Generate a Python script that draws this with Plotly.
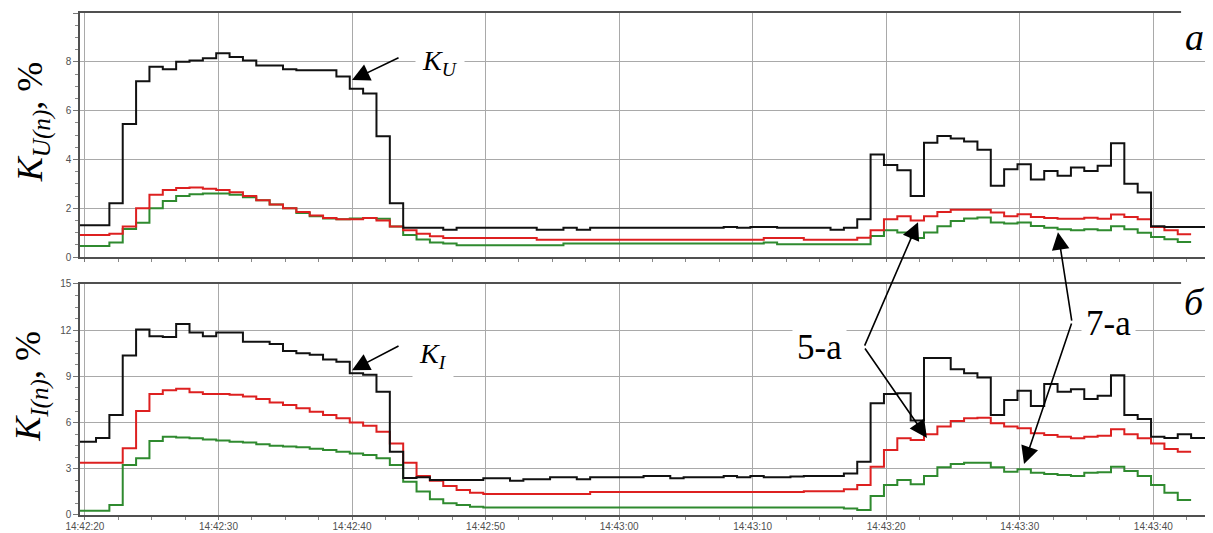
import plotly.graph_objects as go
import pandas as pd

# ---------------- data ----------------
SAMPLE_START = "2024-01-01 14:42:19.83"   # start of first 1-s sample
X_RANGE = ["2024-01-01 14:42:19.63", "2024-01-01 14:43:44.02"]

# Panel a: voltage harmonic factors, % (1-s samples)
ku_total = [1.3, 1.3, 2.2, 5.45, 7.2, 7.8, 7.7, 8.0, 8.05, 8.15, 8.35, 8.2, 8.05, 7.85, 7.85, 7.7,
            7.65, 7.65, 7.65, 7.4, 6.9, 6.7, 4.95, 2.2, 1.2, 1.2, 1.2, 1.12, 1.2, 1.2, 1.2, 1.2,
            1.2, 1.2, 1.12, 1.12, 1.2, 1.12, 1.2, 1.2, 1.2, 1.2, 1.2, 1.2, 1.2, 1.2, 1.2, 1.2,
            1.23, 1.2, 1.23, 1.23, 1.2, 1.2, 1.2, 1.2, 1.12, 1.2, 1.55, 4.2, 3.77, 3.56, 2.5, 4.68,
            4.96, 4.86, 4.73, 4.4, 2.92, 3.6, 3.8, 3.18, 3.53, 3.33, 3.67, 3.53, 3.74, 4.66, 3.0,
            2.64, 1.26, 1.23, 1.23, 1.23, 1.23]
ku_5 = [0.9, 0.9, 0.95, 1.25, 2.0, 2.55, 2.75, 2.83, 2.85, 2.8, 2.75, 2.65, 2.5, 2.33, 2.15, 2.0,
        1.85, 1.7, 1.6, 1.55, 1.55, 1.6, 1.5, 1.25, 1.1, 0.95, 0.85, 0.78, 0.78, 0.78, 0.78, 0.78,
        0.78, 0.78, 0.71, 0.71, 0.71, 0.71, 0.71, 0.71, 0.71, 0.71, 0.71, 0.71, 0.71, 0.71, 0.71,
        0.71, 0.71, 0.71, 0.71, 0.78, 0.78, 0.78, 0.71, 0.71, 0.71, 0.71, 0.79, 1.1, 1.55, 1.67,
        1.5, 1.67, 1.85, 1.94, 1.94, 1.94, 1.82, 1.67, 1.75, 1.64, 1.6, 1.57, 1.57, 1.61, 1.57,
        1.74, 1.64, 1.55, 1.23, 1.1, 0.93]
ku_7 = [0.45, 0.45, 0.6, 1.15, 1.4, 2.0, 2.3, 2.5, 2.57, 2.6, 2.6, 2.55, 2.45, 2.33, 2.15, 2.0,
        1.8, 1.67, 1.58, 1.55, 1.58, 1.6, 1.57, 1.25, 0.9, 0.72, 0.6, 0.55, 0.48, 0.48, 0.48, 0.48,
        0.48, 0.48, 0.48, 0.48, 0.55, 0.55, 0.55, 0.55, 0.55, 0.55, 0.55, 0.55, 0.55, 0.55, 0.55,
        0.55, 0.55, 0.55, 0.55, 0.6, 0.52, 0.52, 0.52, 0.52, 0.52, 0.52, 0.52, 0.86, 1.1, 1.0,
        0.78, 1.0, 1.26, 1.48, 1.58, 1.62, 1.41, 1.37, 1.41, 1.27, 1.2, 1.14, 1.1, 1.14, 1.1,
        1.26, 1.14, 0.99, 0.82, 0.73, 0.62]

# Panel б: current harmonic factors, %
ki_total = [4.75, 5.0, 6.5, 10.35, 12.05, 11.6, 11.55, 12.4, 11.85, 11.6, 11.85, 11.85, 11.25,
            11.25, 11.1, 10.65, 10.5, 10.4, 10.1, 9.95, 9.2, 9.1, 8.0, 4.1, 2.4, 2.45, 2.27, 2.27,
            2.27, 2.27, 2.38, 2.38, 2.23, 2.32, 2.32, 2.45, 2.45, 2.32, 2.45, 2.45, 2.45, 2.45,
            2.53, 2.53, 2.38, 2.45, 2.45, 2.45, 2.53, 2.45, 2.53, 2.45, 2.45, 2.5, 2.53, 2.53,
            2.53, 2.7, 3.46, 7.25, 7.86, 7.9, 6.13, 10.2, 10.2, 9.46, 9.2, 8.92, 6.5, 7.47, 8.07,
            7.08, 8.5, 8.0, 8.16, 7.53, 7.75, 9.07, 6.5, 6.23, 5.08, 5.0, 5.24, 5.0, 5.0]
ki_5 = [3.4, 3.4, 3.4, 4.33, 6.75, 7.86, 8.1, 8.2, 7.97, 7.86, 7.86, 7.8, 7.7, 7.53, 7.3, 7.14,
        6.93, 6.7, 6.5, 6.28, 6.0, 5.8, 5.4, 4.65, 3.4, 2.53, 2.23, 1.88, 1.62, 1.45, 1.36, 1.36,
        1.36, 1.36, 1.36, 1.36, 1.36, 1.36, 1.5, 1.5, 1.5, 1.5, 1.5, 1.5, 1.5, 1.5, 1.5, 1.5,
        1.5, 1.5, 1.5, 1.5, 1.5, 1.5, 1.55, 1.55, 1.55, 1.67, 1.95, 3.14, 4.22, 4.98, 4.87,
        5.24, 5.74, 6.1, 6.28, 6.32, 5.95, 5.74, 5.63, 5.3, 5.2, 5.08, 4.98, 5.08, 5.15, 5.56,
        5.24, 4.98, 4.65, 4.29, 4.11]
ki_7 = [0.28, 0.28, 0.65, 3.25, 3.68, 4.8, 5.08, 5.04, 4.98, 4.9, 4.83, 4.76, 4.7, 4.6, 4.5, 4.44,
        4.4, 4.3, 4.22, 4.1, 4.0, 3.9, 3.68, 3.25, 2.16, 1.52, 1.02, 0.76, 0.65, 0.54, 0.48, 0.48,
        0.48, 0.48, 0.48, 0.48, 0.48, 0.48, 0.48, 0.48, 0.48, 0.48, 0.48, 0.48, 0.48, 0.48, 0.48,
        0.48, 0.48, 0.48, 0.48, 0.48, 0.48, 0.48, 0.48, 0.48, 0.48, 0.43, 0.32, 1.23, 1.95, 2.27,
        1.99, 2.53, 3.1, 3.31, 3.4, 3.4, 3.1, 2.81, 2.97, 2.75, 2.66, 2.6, 2.53, 2.75, 2.77, 3.14,
        2.86, 2.53, 1.95, 1.45, 0.97]

Y1_TICKS = [0, 2, 4, 6, 8, 10]
Y2_TICKS = [0, 3, 6, 9, 12, 15]

# ---------------- figure ----------------
times = list(pd.date_range(SAMPLE_START, periods=95, freq="1s"))
x_left = pd.Timestamp(X_RANGE[0])


def step_xy(vals):
    n = len(vals)
    x = [x_left] + times[:n + 1]
    y = [vals[0]] + list(vals) + [vals[-1]]
    return x, y


BLACK, RED, GREEN = "#111111", "#dd2020", "#2f8a2f"
fig = go.Figure()
for vals, col, name, ax in [
    (ku_7, GREEN, "7-а (U)", "1"), (ku_5, RED, "5-а (U)", "1"), (ku_total, BLACK, "K_U", "1"),
    (ki_7, GREEN, "7-а (I)", "2"), (ki_5, RED, "5-а (I)", "2"), (ki_total, BLACK, "K_I", "2"),
]:
    x, y = step_xy(vals)
    fig.add_trace(go.Scatter(
        x=x, y=y, mode="lines", line=dict(color=col, width=2, shape="hv"), name=name,
        xaxis="x" if ax == "1" else "x2", yaxis="y" if ax == "1" else "y2", showlegend=False))

GRID = "#a9a9a9"
LINE = "#505050"
TICKF = dict(family="Liberation Sans, Arial", size=10, color="#505050")
TITLEF = dict(family="Liberation Serif, Times New Roman", size=36, color="black")

xcommon = dict(type="date", range=X_RANGE, dtick=10000, tickformat="%H:%M:%S",
               showgrid=True, gridcolor=GRID, gridwidth=1, ticks="outside", ticklen=3,
               tickcolor="#777", showline=True, linecolor=LINE, linewidth=1.5, mirror=True,
               zeroline=False, tickfont=TICKF, automargin=False,
               minor=dict(dtick=2500, ticks="outside", ticklen=3, tickcolor="#888", showgrid=False))
ycommon = dict(showgrid=True, gridcolor=GRID, gridwidth=1, ticks="outside", ticklen=5,
               tickcolor="#777", showline=True, linecolor=LINE, linewidth=1.5, mirror=True,
               zeroline=False, tickfont=TICKF, automargin=False)

# page body has an 8 px margin, so the figure is 8 px smaller than the window
fig.update_layout(
    width=1205, height=525,
    margin=dict(l=72, r=6, t=5, b=18),
    paper_bgcolor="white", plot_bgcolor="white",
    xaxis=dict(domain=[0, 1], anchor="y", showticklabels=False, **xcommon),
    xaxis2=dict(domain=[0, 1], anchor="y2", matches="x", showticklabels=True,
                ticklabelstandoff=-2, **xcommon),
    yaxis=dict(domain=[0.5139, 1], anchor="x", range=[0, 10], tickvals=Y1_TICKS,
               minor=dict(dtick=0.5, ticks="outside", ticklen=3, tickcolor="#888"),
               title=dict(text="&nbsp;&nbsp;&nbsp;<i>K</i><sub><i>U(n)</i></sub>, %",
                          font=TITLEF, standoff=12), **ycommon),
    yaxis2=dict(domain=[0, 0.4602], anchor="x2", range=[0, 15], tickvals=Y2_TICKS,
                minor=dict(dtick=0.75, ticks="outside", ticklen=3, tickcolor="#888"),
                title=dict(text="&nbsp;&nbsp;&nbsp;<i>K</i><sub><i>I(n)</i></sub>, %",
                           font=TITLEF, standoff=12), **ycommon),
)

SERIF = "Liberation Serif, Times New Roman"
LBL = dict(xref="paper", yref="paper", showarrow=False, xanchor="center", yanchor="middle")
ann = []
# text labels
ann.append(dict(x=0.3194, y=0.9004, text="<i>K</i><sub><i>U</i></sub>",
                font=dict(family=SERIF, size=28, color="black"),
                bgcolor="white", borderpad=6, **LBL))
ann.append(dict(x=0.3132, y=0.3187, text="<i>K</i><sub><i>I</i></sub>",
                font=dict(family=SERIF, size=28, color="black"),
                bgcolor="white", borderpad=6, **LBL))
ann.append(dict(x=0.6566, y=0.3327, text="5-а",
                font=dict(family=SERIF, size=35, color="black"),
                bgcolor="white", borderpad=4, **LBL))
ann.append(dict(x=0.9122, y=0.3805, text="7-а",
                font=dict(family=SERIF, size=35, color="black"),
                bgcolor="white", borderpad=4, **LBL))
ann.append(dict(x=0.9885, y=0.9522, text="<i>а</i>",
                font=dict(family=SERIF, size=38, color="black"), **LBL))
ann.append(dict(x=0.9885, y=0.4243, text="<i>б</i>",
                font=dict(family=SERIF, size=38, color="black"), **LBL))

ARR = dict(text="", showarrow=True, arrowhead=2, arrowsize=2.2, arrowwidth=1.6, arrowcolor="black")
# K_U / K_I pointers
ann.append(dict(xref="x", yref="y", x="2024-01-01 14:42:40", y=7.25, ax=48, ay=-23, **ARR))
ann.append(dict(xref="x2", yref="y2", x="2024-01-01 14:42:40", y=9.4, ax=48, ay=-25, **ARR))
# 5-a pointers (from vertex near label)
ann.append(dict(xref="x", yref="y", x="2024-01-01 14:43:22.38", y=1.43, ax=-54, ay=125, **ARR))
ann.append(dict(xref="x2", yref="y2", x="2024-01-01 14:43:23.05", y=5.0, ax=-63, ay=-91, **ARR))
# 7-a pointers
ann.append(dict(xref="x", yref="y", x="2024-01-01 14:43:32.86", y=1.02, ax=14, ay=90, **ARR))
ann.append(dict(xref="x2", yref="y2", x="2024-01-01 14:43:30.32", y=3.31, ax=48, ay=-142, **ARR))
fig.update_layout(annotations=ann)

# white boxes that hide the frame corner behind panel letters
fig.update_layout(shapes=[
    dict(type="rect", xref="paper", yref="paper", x0=0.977, x1=1.006, y0=0.9104, y1=1.03,
         fillcolor="white", line=dict(width=0), layer="above"),
    dict(type="rect", xref="paper", yref="paper", x0=0.977, x1=1.006, y0=0.3845, y1=0.488,
         fillcolor="white", line=dict(width=0), layer="above"),
])

fig.write_html("out.html")
